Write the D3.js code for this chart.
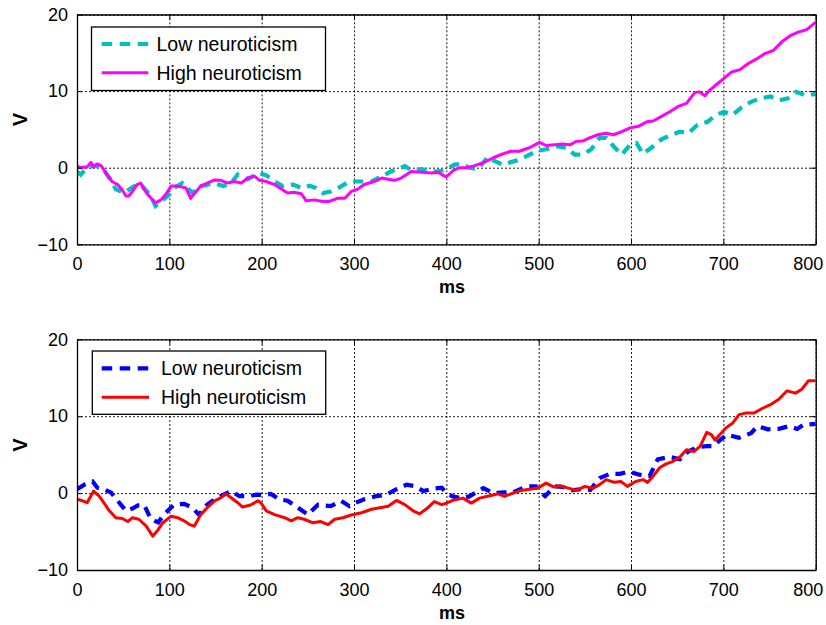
<!DOCTYPE html>
<html>
<head>
<meta charset="utf-8">
<script src="https://cdn.jsdelivr.net/npm/d3@7"></script>
<style>
  body { margin: 0; background: #fff; }
  svg { font-family: "Liberation Sans", Arial, sans-serif; }
</style>
</head>
<body>
<div id="chart"></div>
<script>
// axis ticks
var xTicks = [0, 100, 200, 300, 400, 500, 600, 700, 800]
var yTicks = [-10, 0, 10, 20]
var seriesNames = ['Low neuroticism', 'High neuroticism']

// [ms, V]
var lowTop = [[0,-0.5],[4,-0.9],[11,0.0],[20,0.3],[29,-0.3],[36,-1.5],[42,-2.8],[51,-3.3],[62,-2.4],[69,-2.2],[80,-3.7],[85,-5.0],[91,-4.4],[100,-3.5],[105,-2.65],[114,-2.0],[125,-3.3],[134,-2.4],[149,-2.0],[158,-2.4],[167,-2.0],[174,-0.9],[185,-1.5],[197,-0.7],[205,-1.0],[214,-1.8],[223,-2.4],[234,-2.2],[243,-2.65],[252,-2.35],[259,-2.65],[266,-3.3],[275,-3.1],[283,-2.65],[292,-2.0],[297,-1.8],[308,-1.8],[319,-1.8],[330,-1.1],[340,-0.5],[355,0.2],[362,-0.3],[373,-0.2],[388,-0.5],[398,-0.35],[409,0.4],[416,0.5],[425,0],[434,-0.2],[445,1.4],[452,0.9],[461,0.4],[476,0.95],[487,1.5],[497,2.15],[508,2.4],[519,2.8],[530,2.6],[539,1.7],[548,1.7],[557,2.4],[566,3.9],[573,3.9],[581,2.8],[590,1.7],[599,3.0],[606,3.2],[613,1.8],[624,2.8],[633,3.7],[644,4.3],[653,4.7],[662,4.5],[672,5.6],[683,6.0],[692,6.9],[701,7.3],[710,6.9],[719,7.8],[730,8.6],[740,9.05],[751,9.3],[761,8.8],[770,9.05],[779,9.9],[788,9.5],[800,9.6]]

var highTop = [[0,0.26],[4,0],[8,0.1],[11,0.1],[15,0.7],[18,0.1],[22,0.5],[26,0.26],[29,-0.26],[33,-1.0],[38,-1.8],[44,-2.2],[49,-2.9],[53,-3.7],[56,-3.7],[60,-3.1],[65,-2.2],[69,-2.0],[73,-2.9],[78,-3.7],[85,-4.6],[91,-4.2],[96,-3.5],[102,-2.4],[107,-2.4],[113,-2.5],[118,-2.65],[123,-4.0],[129,-3.1],[134,-2.4],[141,-2.0],[149,-1.6],[156,-1.65],[163,-2.0],[170,-1.8],[178,-2.0],[185,-1.35],[192,-1.1],[197,-1.6],[205,-1.8],[214,-2.2],[223,-2.9],[228,-3.3],[235,-3.2],[243,-3.4],[248,-4.3],[257,-4.2],[266,-4.4],[273,-4.4],[282,-4.0],[290,-4.0],[297,-3.1],[304,-2.8],[311,-2.2],[322,-1.8],[330,-1.35],[337,-1.5],[344,-1.65],[351,-1.35],[362,-0.5],[373,-0.6],[384,-0.7],[391,-0.6],[398,-1.1],[400,-1.2],[407,-0.4],[414,0],[422,0],[429,0.2],[440,0.65],[451,1.3],[461,1.8],[470,2.15],[479,2.15],[490,2.6],[501,3.3],[508,2.9],[517,3.0],[526,3.1],[534,3.0],[541,3.45],[548,3.5],[555,3.9],[564,4.3],[573,4.5],[581,4.3],[590,4.7],[599,5.2],[608,5.4],[617,6.0],[624,6.1],[633,6.7],[642,7.3],[651,8.0],[660,8.4],[669,9.8],[674,9.9],[680,9.4],[685,10.1],[692,10.8],[700,11.6],[709,12.5],[718,12.8],[727,13.6],[736,14.2],[745,14.9],[754,15.3],[763,16.4],[772,17.2],[781,17.7],[790,18.0],[800,19.0]]

var lowBottom = [[0,0.5],[8,1.1],[17,1.5],[22,0.7],[29,0.5],[37,0.05],[44,-1.0],[53,-2.3],[60,-2.0],[66,-1.6],[73,-1.6],[80,-3.4],[88,-3.8],[94,-2.8],[105,-1.5],[116,-1.4],[125,-1.9],[132,-2.8],[141,-1.5],[152,-0.6],[167,0.26],[176,-0.4],[187,-0.4],[194,-0.2],[203,-0.26],[210,-0.1],[219,-0.8],[228,-1.0],[237,-1.7],[250,-2.8],[261,-1.5],[275,-1.7],[286,-1.0],[295,-1.7],[302,-1.25],[311,-0.8],[324,-0.4],[335,-0.2],[346,0.5],[357,1.1],[366,0.9],[375,0.26],[387,0.6],[395,0.7],[400,0],[407,-0.43],[416,-0.65],[425,-0.43],[440,0.65],[451,0],[463,0.1],[472,0.1],[487,0.87],[497,0.87],[502,0.1],[507,-0.4],[517,0.87],[526,0.8],[534,0.35],[545,0.5],[556,0.43],[566,1.95],[577,2.5],[588,2.5],[598,2.8],[609,2.4],[620,2.2],[629,4.4],[642,4.7],[653,4.4],[662,5.4],[672,6.0],[682,6.1],[689,6.1],[697,6.95],[704,7.6],[717,7.2],[730,7.8],[737,8.7],[748,8.3],[760,8.35],[771,8.7],[780,8.35],[787,8.9],[800,9.0]]

var highBottom = [[0,-0.8],[6,-1.0],[11,-1.25],[18,0.26],[24,-0.4],[29,-1.25],[35,-2.3],[42,-3.2],[49,-3.3],[55,-3.7],[60,-3.2],[67,-3.4],[75,-4.3],[82,-5.6],[87,-4.9],[93,-3.85],[102,-3.0],[109,-3.2],[116,-3.6],[122,-4.1],[127,-4.3],[134,-2.8],[141,-1.9],[149,-1.0],[156,-0.6],[161,-0.1],[167,-0.6],[174,-1.25],[179,-1.8],[188,-1.55],[196,-1.0],[199,-1.25],[205,-2.3],[214,-2.8],[225,-3.2],[232,-3.6],[239,-3.2],[246,-3.4],[255,-3.85],[264,-3.7],[272,-4.1],[279,-3.4],[288,-3.2],[297,-2.85],[308,-2.55],[319,-2.1],[328,-1.9],[337,-1.7],[346,-0.95],[355,-1.5],[364,-2.3],[371,-2.7],[380,-1.9],[387,-1.1],[395,-1.5],[400,-1.3],[407,-0.95],[418,-0.65],[427,-1.3],[436,-0.65],[447,-0.35],[456,-0.1],[463,-0.43],[470,-0.1],[481,0.35],[490,0.5],[499,0.65],[508,1.3],[516,0.8],[523,0.95],[532,0.65],[541,0.35],[550,0.87],[559,0.65],[566,1.1],[573,1.75],[582,1.4],[589,1.5],[596,0.87],[605,1.5],[613,1.75],[618,1.4],[624,2.2],[631,3.3],[638,3.8],[645,4.1],[653,4.7],[660,5.65],[668,5.4],[675,6.1],[682,7.9],[687,7.6],[691,6.9],[696,7.6],[703,8.5],[710,9.1],[717,10.2],[724,10.4],[733,10.4],[742,11.0],[751,11.5],[760,12.2],[769,13.3],[778,13.0],[785,13.5],[792,14.6],[800,14.6]]

var svg = d3.select('#chart').append('svg')
  .attr('width', 826)
  .attr('height', 625)

var x = d3.scaleLinear().domain([0, 800]).range([77, 815.7])

var panels = [
  { top: 14.5, bottom: 244.3, low: lowTop, high: highTop, lowColor: '#00bfbf', highColor: '#ff00ff',
    legend: { x0: 91.5, y0: 27, x1: 325.5, y1: 90.5, rows: [44, 72.7], sx0: 101.7, sx1: 148.3, tx: 156.5 }, vy: 119.5 },
  { top: 339.3, bottom: 570, low: lowBottom, high: highBottom, lowColor: '#0000ff', highColor: '#ff0000',
    legend: { x0: 92.3, y0: 351, x1: 325.7, y1: 414.3, rows: [368.3, 397.3], sx0: 101.7, sx1: 149, tx: 161 }, vy: 445 }
]

panels.forEach(function(p, pi) {
  var y = d3.scaleLinear().domain([-10, 20]).range([p.bottom, p.top])
  var g = svg.append('g').attr('class', 'panel-' + pi)
  var w = x.range()[1] - x.range()[0]
  var h = p.bottom - p.top

  // grid
  g.append('g')
    .attr('transform', 'translate(0,' + p.bottom + ')')
    .call(d3.axisBottom(x).tickValues(xTicks).tickSize(-h).tickFormat(''))
    .call(s => s.select('.domain').remove())
    .selectAll('line').attr('stroke', '#000').attr('stroke-width', 0.9).attr('stroke-dasharray', '2,2')
  g.append('g')
    .attr('transform', 'translate(77,0)')
    .call(d3.axisLeft(y).tickValues(yTicks).tickSize(-w).tickFormat(''))
    .call(s => s.select('.domain').remove())
    .selectAll('line').attr('stroke', '#000').attr('stroke-width', 0.9).attr('stroke-dasharray', '2,2')

  // data
  var clipId = 'clip' + pi
  svg.append('clipPath').attr('id', clipId).append('rect')
    .attr('x', 77).attr('y', p.top).attr('width', w).attr('height', h)

  var line = d3.line().x(d => x(d[0])).y(d => y(d[1]))
  var plot = g.append('g').attr('clip-path', 'url(#' + clipId + ')')
  plot.append('path').datum(p.low)
    .attr('d', line).attr('fill', 'none')
    .attr('stroke', p.lowColor).attr('stroke-width', 4.2).attr('stroke-dasharray', '10,7')
  plot.append('path').datum(p.high)
    .attr('d', line).attr('fill', 'none')
    .attr('stroke', p.highColor).attr('stroke-width', 3).attr('stroke-linejoin', 'round')

  // axes, ticks pointing inwards
  var bottomAxis = g.append('g')
    .attr('transform', 'translate(0,' + p.bottom + ')')
    .call(d3.axisBottom(x).tickValues(xTicks).tickSize(-5).tickPadding(13.2).tickSizeOuter(0))
  var leftAxis = g.append('g')
    .attr('transform', 'translate(77,0)')
    .call(d3.axisLeft(y).tickValues(yTicks).tickSize(-5).tickPadding(9).tickSizeOuter(0))
  var topAxis = g.append('g')
    .attr('transform', 'translate(0,' + p.top + ')')
    .call(d3.axisTop(x).tickValues(xTicks).tickSize(-5).tickFormat('').tickSizeOuter(0))
  var rightAxis = g.append('g')
    .attr('transform', 'translate(815.7,0)')
    .call(d3.axisRight(y).tickValues(yTicks).tickSize(-5).tickFormat('').tickSizeOuter(0))

  ;[bottomAxis, leftAxis, topAxis, rightAxis].forEach(function(a) {
    a.select('.domain').attr('stroke', '#000').attr('stroke-width', 1.3)
    a.selectAll('.tick line').attr('stroke', '#000').attr('stroke-width', 1)
    a.selectAll('text').attr('font-size', 18).attr('fill', '#000')
      .attr('font-family', '"Liberation Sans", Arial, sans-serif')
  })
  leftAxis.selectAll('text').text(d => d < 0 ? '\u2212' + Math.abs(d) : d)
  // last label sits inside the page, as in the figure
  bottomAxis.selectAll('.tick text').filter(d => d === 800).attr('x', -8)

  // axis labels
  g.append('text')
    .attr('x', 452).attr('y', p.bottom + 49)
    .attr('text-anchor', 'middle')
    .attr('font-size', 18).attr('font-weight', 'bold')
    .text('ms')
  g.append('text')
    .attr('transform', 'translate(26.5,' + p.vy + ') rotate(-90)')
    .attr('text-anchor', 'middle')
    .attr('font-size', 20).attr('font-weight', 'bold')
    .text('V')

  // legend
  var L = p.legend
  var lg = g.append('g').attr('class', 'legend')
  lg.append('rect')
    .attr('x', L.x0).attr('y', L.y0)
    .attr('width', L.x1 - L.x0).attr('height', L.y1 - L.y0)
    .attr('fill', '#fff').attr('stroke', '#000').attr('stroke-width', 1.3)
  var styles = [
    { color: p.lowColor, width: 4.2, dash: '10.5,7.5' },
    { color: p.highColor, width: 3, dash: null }
  ]
  seriesNames.forEach(function(name, i) {
    lg.append('line')
      .attr('x1', L.sx0).attr('x2', L.sx1)
      .attr('y1', L.rows[i]).attr('y2', L.rows[i])
      .attr('stroke', styles[i].color).attr('stroke-width', styles[i].width)
      .attr('stroke-dasharray', styles[i].dash)
    lg.append('text')
      .attr('x', L.tx).attr('y', L.rows[i]).attr('dy', '0.36em')
      .attr('font-size', 19.5)
      .text(name)
  })
})
</script>
</body>
</html>
